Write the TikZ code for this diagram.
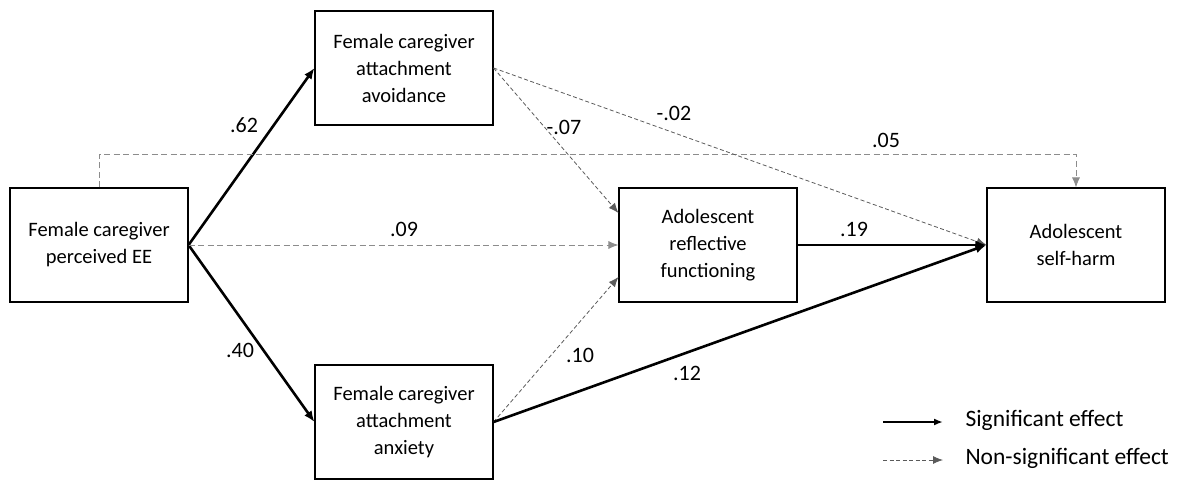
\documentclass[tikz,border=0pt]{standalone}
\usepackage{fontspec}
\setmainfont{Carlito}
\usepackage{tikz}
\usetikzlibrary{positioning,arrows.meta,calc}
\definecolor{nsline}{RGB}{90,90,90}
\definecolor{nslight}{RGB}{140,140,140}

\begin{document}
\begin{tikzpicture}[
  x=1pt, y=1pt,
  var/.style={draw, line width=1.1pt, minimum width=178pt, minimum height=114pt, align=center, inner sep=2pt, font=\fontsize{20.5}{27}\selectfont},
  sig/.style={line width=2.6pt, -{Latex[length=11pt,width=9pt]}},
  ns/.style={line width=0.8pt, nsline, dash pattern=on 4pt off 2.5pt, -{Latex[length=10pt,width=8pt]}},
  nsgray/.style={ns, nslight, dash pattern=on 6pt off 3.5pt},
  coef/.style={font=\fontsize{22}{26}\selectfont},
  legtext/.style={font=\fontsize{23.5}{28}\selectfont, anchor=west},
]
\useasboundingbox (0,0) rectangle (1177,480);
\def\ex{99}     % EE column centre
\def\ax{404}    % attachment column centre
\def\rx{708}    % reflective column centre
\def\hx{1076}   % self-harm column centre

% ---- variables ----
\node[var] (ee) at (\ex,235) {Female caregiver\\perceived EE};
\node[var] (avoid) at (\ax,412) {Female caregiver\\attachment\\avoidance};
\node[var] (anxiety) at (\ax,58) {Female caregiver\\attachment\\anxiety};
\node[var] (reflect) at (\rx,235) {Adolescent\\reflective\\functioning};
\node[var] (selfharm) at (\hx,235) {Adolescent\\self-harm};

% ---- paths ----
\draw[sig] (ee.east) -- (avoid.west);
\draw[sig] (ee.east) -- (anxiety.west);
\draw[nsgray] (ee.east) -- (reflect.west);
\draw[nsgray] (ee.north) -- ++(0,33) -| (selfharm.north);
\draw[ns] (avoid.east) -- ($(reflect.west)+(0,32)$);
\draw[ns] (avoid.east) -- (selfharm.west);
\draw[ns] (anxiety.east) -- ($(reflect.west)+(0,-32)$);
\draw[sig] (anxiety.east) -- (selfharm.west);
\draw[sig] (reflect.east) -- (selfharm.west);

% ---- coefficients ----
\node[coef] at (244,355) {.62};
\node[coef] at (240,130) {.40};
\node[coef] at (404,251) {.09};
\node[coef] at (564,353) {-.07};
\node[coef] at (674,367) {-.02};
\node[coef] at (886,340) {.05};
\node[coef] at (854,251) {.19};
\node[coef] at (580,125) {.10};
\node[coef] at (687,107) {.12};

% ---- legend ----
\coordinate (l1a) at (883,58);
\coordinate (l1b) at (943,58);
\coordinate (l2a) at (883,20);
\coordinate (l2b) at (943,20);
\draw[sig, line width=2pt, -{Latex[length=9pt,width=7pt]}] (l1a) -- (l1b);
\draw[ns] (l2a) -- (l2b);
\node[legtext] (lsig) at (962,60) {Significant effect};
\node[legtext] (lns) at (962,22) {Non-significant effect};

\end{tikzpicture}
\end{document}
